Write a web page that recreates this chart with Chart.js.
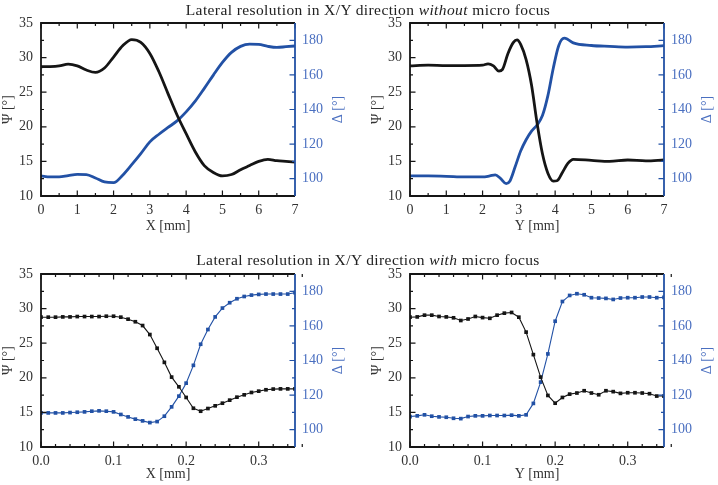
<!DOCTYPE html>
<html>
<head>
<meta charset="utf-8">
<script src="https://cdn.jsdelivr.net/npm/chart.js@4.4.0/dist/chart.umd.min.js"></script>
<style>
  body { margin: 0; background: #fff; overflow: hidden; }
  .wrap { position: relative; width: 718px; height: 485px; }
  canvas { position: absolute; }
  .title {
    position: absolute; left: 18px; width: 700px; text-align: center;
    font-family: "Liberation Serif", serif; font-size: 15.5px; line-height: 18px;
    letter-spacing: 0.4px; color: #222; z-index: 2;
  }
</style>
</head>
<body>
<div class="wrap">
  <div class="title" style="top:1px">Lateral resolution in X/Y direction <i>without</i> micro focus</div>
  <div class="title" style="top:251px">Lateral resolution in X/Y direction <i>with</i> micro focus</div>
  <canvas id="c1" width="359" height="242" style="left:0;top:0"></canvas>
  <canvas id="c2" width="349" height="242" style="left:369px;top:0"></canvas>
  <canvas id="c3" width="359" height="234" style="left:0;top:251px"></canvas>
  <canvas id="c4" width="349" height="234" style="left:369px;top:251px"></canvas>
</div>
<script>
// ---- tick labels ----
const psiTicks = [10, 15, 20, 25, 30, 35];
const deltaTicks = [100, 120, 140, 160, 180];

// ---- data: without micro focus (X scan) ----
const xScanX = [0, 0.25, 0.5, 0.75, 1, 1.25, 1.5, 1.75, 2, 2.25, 2.5, 2.75, 3, 3.25, 3.5, 3.75, 4, 4.25, 4.5, 4.75, 5, 5.25, 5.5, 5.75, 6, 6.25, 6.5, 6.75, 7];
const xScanPsi = [28.68, 28.7, 28.8, 29.06, 28.8, 28.2, 27.86, 28.5, 30.08, 31.7, 32.6, 32.2, 30.6, 27.95, 24.8, 21.7, 19.0, 16.4, 14.4, 13.4, 12.9, 13.1, 13.8, 14.4, 15.0, 15.3, 15.1, 15.0, 14.9];
const xScanDelta = [101.6, 101.0, 101.0, 101.8, 102.5, 102.4, 100.4, 98.1, 97.7, 102, 108.1, 114.5, 121.3, 125.7, 129.6, 133.4, 138.6, 144.8, 152.2, 159.9, 167.2, 173, 176.5, 177.8, 177.6, 176.5, 175.9, 176.3, 176.7];

// ---- data: without micro focus (Y scan) ----
const yScanPsiX = [0, 0.5, 1, 1.5, 2, 2.15, 2.3, 2.45, 2.55, 2.7, 2.85, 2.95, 3.05, 3.2, 3.35, 3.5, 3.65, 3.8, 3.95, 4.05, 4.2, 4.35, 4.5, 5, 5.5, 6, 6.5, 7];
const yScanPsi = [28.8, 28.9, 28.85, 28.85, 28.9, 29.1, 28.8, 28.05, 28.3, 30.6, 32.2, 32.55, 31.9, 29.7, 26.0, 20.6, 16.1, 13.3, 12.15, 12.2, 13.4, 14.7, 15.3, 15.15, 15.0, 15.2, 15.07, 15.2];
const yScanDeltaX = [0, 0.5, 1, 1.5, 2, 2.2, 2.35, 2.5, 2.65, 2.75, 2.9, 3.05, 3.2, 3.35, 3.5, 3.65, 3.8, 3.95, 4.1, 4.25, 4.35, 4.5, 5, 5.5, 6, 6.5, 7];
const yScanDelta = [101.6, 101.6, 101.4, 101.0, 101.0, 101.6, 102.2, 100, 97.2, 98.5, 107, 116, 122.5, 127.5, 131, 136.5, 148, 164, 177, 181.2, 180.5, 178.5, 177, 176.5, 176.1, 176.3, 176.9];

// ---- data: with micro focus ----
const focusPos = [0, 0.01, 0.02, 0.03, 0.04, 0.05, 0.06, 0.07, 0.08, 0.09, 0.1, 0.11, 0.12, 0.13, 0.14, 0.15, 0.16, 0.17, 0.18, 0.19, 0.2, 0.21, 0.22, 0.23, 0.24, 0.25, 0.26, 0.27, 0.28, 0.29, 0.3, 0.31, 0.32, 0.33, 0.34, 0.35];
const focusXPsi = [28.76, 28.76, 28.76, 28.8, 28.8, 28.85, 28.85, 28.85, 28.85, 28.9, 28.9, 28.76, 28.47, 28.1, 27.55, 26.25, 24.27, 22.23, 20.1, 18.7, 17.16, 15.6, 15.17, 15.56, 15.95, 16.33, 16.77, 17.2, 17.54, 17.88, 18.07, 18.27, 18.37, 18.4, 18.4, 18.4];
const focusXDelta = [109.7, 109.7, 109.7, 109.7, 109.9, 110.1, 110.3, 110.7, 110.9, 110.7, 110.3, 108.8, 107.4, 106.1, 105.1, 104.1, 104.7, 107.8, 113.2, 119.4, 126.9, 137.2, 149.4, 157.9, 165.2, 170.3, 173.4, 175.7, 177, 177.8, 178.2, 178.4, 178.4, 178.4, 178.4, 179.2];
const focusYPsi = [28.76, 28.8, 29.05, 29.05, 28.86, 28.8, 28.67, 28.28, 28.5, 28.86, 28.7, 28.6, 29.05, 29.34, 29.44, 28.76, 26.6, 23.35, 20.1, 17.45, 16.33, 17.16, 17.64, 17.8, 18.13, 17.8, 17.55, 18.13, 18.0, 17.75, 17.84, 17.84, 17.8, 17.7, 17.36, 17.36];
const focusYDelta = [107.6, 108, 108.6, 107.8, 107.4, 107.2, 106.6, 106.4, 107.6, 108, 108, 108.2, 108.2, 108.2, 108.4, 108, 108.6, 115.2, 127.5, 143.8, 162.7, 174.1, 177.6, 178.6, 178, 176.3, 176.1, 175.9, 175.3, 176.1, 176.3, 176.3, 176.7, 176.7, 176.3, 176.5];

const INK = "#151515";
const BLUE = "#2251a5";
const BLUE_TXT = "#4a6fc0";
const FONT = "'Liberation Serif', 'Times New Roman', serif";

function pts(xs, ys) {
  return xs.map((x, i) => ({ x: x, y: ys[i] }));
}

function stepsOf(scale, step) {
  const n = Math.round((scale.max - scale.min) / step);
  const out = [];
  for (let i = 0; i <= n; i++) out.push(scale.min + i * step);
  return out;
}

function isMajor(v, major) {
  return Math.abs(v / major - Math.round(v / major)) < 1e-6;
}

// inward ticks on all four sides, coloured spines, right axis title
const frame = {
  id: "frame",
  afterDatasetsDraw(chart, args, opts) {
    const { ctx, chartArea: a } = chart;
    const sx = chart.scales.x, sl = chart.scales.psi, sr = chart.scales.delta;
    ctx.save();
    ctx.lineWidth = 1.2;
    ctx.strokeStyle = INK;
    ctx.beginPath();
    stepsOf(sx, opts.xMinor).forEach((v) => {
      const p = sx.getPixelForValue(v);
      const len = isMajor(v, opts.xMajor) ? 5.5 : 3;
      ctx.moveTo(p, a.bottom); ctx.lineTo(p, a.bottom - len);
      ctx.moveTo(p, a.top); ctx.lineTo(p, a.top + len);
    });
    stepsOf(sl, 2.5).forEach((v) => {
      const p = sl.getPixelForValue(v);
      const len = isMajor(v, 5) ? 5.5 : 3;
      ctx.moveTo(a.left, p); ctx.lineTo(a.left + len, p);
    });
    ctx.stroke();

    ctx.strokeStyle = BLUE;
    ctx.beginPath();
    stepsOf(sr, 10).forEach((v) => {
      const p = sr.getPixelForValue(v);
      const len = isMajor(v, 20) ? 5.5 : 3;
      ctx.moveTo(a.right, p); ctx.lineTo(a.right - len, p);
    });
    ctx.stroke();

    ctx.lineWidth = 1.8;
    ctx.strokeStyle = INK;
    ctx.beginPath();
    ctx.moveTo(a.right, a.top); ctx.lineTo(a.left, a.top);
    ctx.lineTo(a.left, a.bottom); ctx.lineTo(a.right, a.bottom);
    ctx.stroke();
    ctx.strokeStyle = BLUE;
    ctx.beginPath();
    ctx.moveTo(a.right, a.top); ctx.lineTo(a.right, a.bottom);
    ctx.stroke();

    ctx.translate(a.right + 43, (a.top + a.bottom) / 2);
    ctx.rotate(-Math.PI / 2);
    ctx.fillStyle = BLUE_TXT;
    ctx.font = "14px " + FONT;
    ctx.textAlign = "center";
    ctx.textBaseline = "middle";
    ctx.fillText("\u0394 [\u00b0]", 0, 0);
    ctx.restore();
  }
};

function makePanel(id, p) {
  const canvas = document.getElementById(id);
  const W = canvas.width, H = canvas.height;
  const smooth = !p.markers;
  const style = (color) => ({
    borderColor: color,
    backgroundColor: color,
    borderWidth: smooth ? 2.8 : 1.1,
    pointRadius: smooth ? 0 : 2.6,
    pointStyle: "rect",
    pointBorderWidth: 0,
    pointBackgroundColor: color,
    tension: smooth ? 0.4 : 0,
    cubicInterpolationMode: smooth ? "monotone" : "default",
    fill: false
  });
  return new Chart(canvas, {
    type: "line",
    data: {
      datasets: [
        Object.assign({ label: "Psi", data: p.psi, yAxisID: "psi" }, style(INK)),
        Object.assign({ label: "Delta", data: p.delta, yAxisID: "delta" }, style(BLUE))
      ]
    },
    plugins: [frame],
    options: {
      responsive: false,
      animation: false,
      layout: { padding: { top: 23, left: 0, right: 0, bottom: 0 } },
      plugins: {
        legend: { display: false },
        tooltip: { enabled: false },
        frame: { xMajor: p.xMajor, xMinor: p.xMinor }
      },
      scales: {
        x: {
          type: "linear",
          min: p.xMin, max: p.xMax,
          grid: { display: false, drawTicks: false },
          border: { display: false },
          ticks: {
            stepSize: p.xMajor, includeBounds: false, padding: 6, maxRotation: 0,
            color: "#333", font: { family: FONT, size: 14 },
            callback: (v) => p.xFmt(v)
          },
          title: {
            display: true, text: p.xTitle, color: "#333",
            font: { family: FONT, size: 14 }, padding: { top: 0, bottom: p.xTitlePad }
          },
          afterFit: (s) => { s.height = H - 196; }
        },
        psi: {
          type: "linear", position: "left",
          min: 10, max: 35,
          grid: { display: false, drawTicks: false },
          border: { display: false },
          afterBuildTicks: (s) => { s.ticks = psiTicks.map((v) => ({ value: v })); },
          ticks: {
            padding: 8,
            color: "#333", font: { family: FONT, size: 14 }
          },
          title: {
            display: true, text: "\u03a8 [\u00b0]", color: "#333",
            font: { family: FONT, size: 14 }, padding: { top: 0, bottom: 0 }
          },
          afterFit: (s) => { s.width = 41; }
        },
        delta: {
          type: "linear", position: "right",
          min: 90, max: 190,
          grid: { display: false, drawTicks: false },
          border: { display: false },
          afterBuildTicks: (s) => { s.ticks = deltaTicks.map((v) => ({ value: v })); },
          ticks: {
            padding: 7,
            color: BLUE_TXT, font: { family: FONT, size: 14 }
          },
          afterFit: (s) => { s.width = W - 295; }
        }
      }
    }
  });
}

const intFmt = (v) => String(Math.round(v));
const decFmt = (v) => v.toFixed(1);

makePanel("c1", {
  psi: pts(xScanX, xScanPsi), delta: pts(xScanX, xScanDelta),
  xMin: 0, xMax: 7, xMajor: 1, xMinor: 0.5, xFmt: intFmt,
  xTitle: "X [mm]", xTitlePad: 7, markers: false
});
makePanel("c2", {
  psi: pts(yScanPsiX, yScanPsi), delta: pts(yScanDeltaX, yScanDelta),
  xMin: 0, xMax: 7, xMajor: 1, xMinor: 0.5, xFmt: intFmt,
  xTitle: "Y [mm]", xTitlePad: 7, markers: false
});
makePanel("c3", {
  psi: pts(focusPos, focusXPsi), delta: pts(focusPos, focusXDelta),
  xMin: 0, xMax: 0.35, xMajor: 0.1, xMinor: 0.02, xFmt: decFmt,
  xTitle: "X [mm]", xTitlePad: 2, markers: true
});
makePanel("c4", {
  psi: pts(focusPos, focusYPsi), delta: pts(focusPos, focusYDelta),
  xMin: 0, xMax: 0.35, xMajor: 0.1, xMinor: 0.02, xFmt: decFmt,
  xTitle: "Y [mm]", xTitlePad: 2, markers: true
});
</script>
</body>
</html>
